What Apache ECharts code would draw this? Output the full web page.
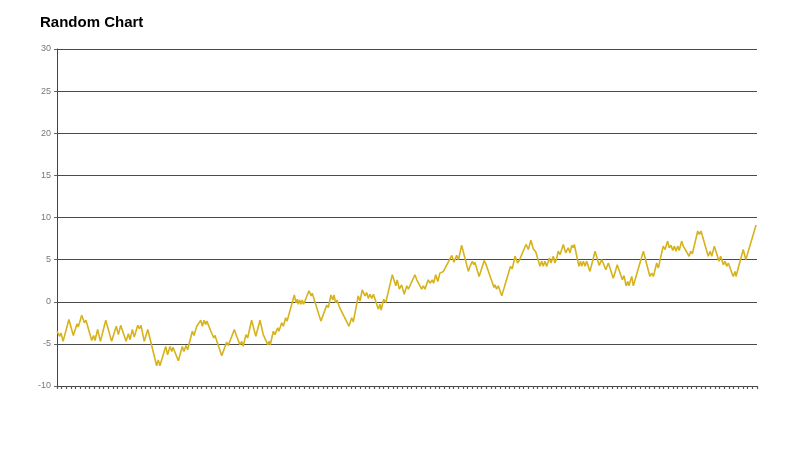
<!DOCTYPE html>
<html lang="en">
<head>
    <meta charset="UTF-8">
    <title>Random Chart</title>
    <style>
        html, body { margin: 0; padding: 0; background: #fff; }
        .chart { width: 800px; height: 450px; }
    </style>
</head>
<body>
<div class="chart" id="showData"></div>
<script src="https://cdn.jsdelivr.net/npm/echarts@6/dist/echarts.min.js"></script>
<script>
    // turning points of the walk: position along the x axis (0..300) and value
    var steps = [
        0, 1.2, 1.7, 2.6, 5.1, 7.0, 8.6, 9.1, 10.6, 11.7, 12.4, 14.9, 15.7, 16.3, 17.4, 18.6,
        20.9, 23.4, 25.4, 26.3, 27.3, 29.6, 30.6, 31.3, 32.3, 33.1, 34.6, 35.3, 36.0, 37.4, 38.9,
        42.7, 43.4, 44.1, 46.6, 47.4, 48.4, 49.2, 49.7, 52.0, 53.7, 54.4, 55.3, 56.0, 58.0, 58.7,
        59.9, 60.6, 61.6, 62.3, 63.0, 63.7, 64.2, 66.4, 67.2, 67.7, 70.6, 72.7, 73.4, 76.0, 77.0,
        78.4, 79.2, 79.8, 81.0, 81.7, 83.4, 85.2, 87.0, 88.4, 90.3, 90.9, 91.4, 92.7, 93.4, 94.6,
        95.1, 96.3, 97.0, 98.0, 98.6, 101.7, 102.4, 103.0, 103.4, 104.0, 104.6, 105.1, 105.7,
        108.0, 108.9, 109.4, 113.1, 115.6, 116.3, 117.4, 118.2, 118.7, 119.4, 120.0, 121.0,
        125.1, 126.3, 127.0, 129.1, 129.9, 130.8, 132.0, 132.7, 133.4, 134.1, 134.9, 135.6,
        137.7, 138.4, 138.9, 140.0, 140.9, 143.7, 145.2, 145.8, 146.7, 147.7, 148.8, 149.9,
        150.6, 153.4, 154.2, 154.8, 156.3, 157.0, 157.7, 159.1, 159.9, 160.8, 161.4, 162.3,
        163.2, 164.1, 164.9, 165.6, 166.3, 169.2, 170.1, 171.3, 172.1, 173.4, 176.3, 177.0,
        178.0, 178.7, 179.1, 180.9, 183.1, 183.9, 187.3, 187.7, 188.4, 189.1, 190.6, 193.7,
        194.4, 195.1, 196.3, 197.4, 198.1, 201.0, 202.0, 203.1, 204.1, 205.2, 207.0, 207.7,
        208.4, 209.1, 209.9, 211.0, 211.7, 212.7, 213.4, 214.2, 214.8, 215.6, 217.0, 218.0,
        219.1, 219.9, 220.6, 221.3, 221.7, 223.7, 224.4, 224.9, 225.6, 226.3, 227.0, 228.4,
        230.6, 232.4, 233.4, 234.1, 235.2, 236.3, 238.4, 239.1, 240.1, 242.3, 243.0, 243.9,
        244.6, 245.1, 246.3, 247.0, 251.3, 254.1, 254.9, 255.6, 257.0, 257.7, 259.8, 260.6,
        261.7, 262.4, 263.1, 263.9, 264.6, 265.3, 266.0, 266.7, 267.7, 268.4, 269.1, 270.9,
        271.6, 272.3, 274.6, 275.3, 276.0, 279.1, 279.9, 280.6, 281.7, 282.4, 283.7, 284.4,
        285.6, 286.3, 287.0, 287.7, 289.8, 290.6, 291.0, 294.1, 295.2, 299.6
    ];
    var values = [
        -3.5, -4.1, -3.7, -4.7, -2.1, -4.0, -2.6, -3.0, -1.6, -2.5, -2.2, -4.6, -4.0, -4.6, -3.3, -4.7,
        -2.2, -4.7, -2.9, -3.9, -2.8, -4.7, -3.8, -4.5, -3.3, -4.2, -2.8, -3.2, -2.8, -4.7, -3.3,
        -7.6, -6.9, -7.6, -5.3, -6.3, -5.3, -5.9, -5.4, -7.0, -5.3, -5.9, -5.2, -5.7, -3.5, -4.0,
        -2.9, -3.1, -2.2, -2.9, -2.2, -2.7, -2.3, -3.8, -4.3, -4.0, -6.4, -4.8, -5.2, -3.3, -4.1,
        -5.1, -4.7, -5.3, -3.9, -4.3, -2.2, -4.1, -2.2, -3.9, -5.1, -4.7, -5.1, -3.5, -3.9, -3.1,
        -3.5, -2.5, -2.9, -1.9, -2.3, 0.8, -0.1, 0.3, -0.3, 0.2, -0.3, 0.2, -0.3,
        1.3, 0.7, 1.0, -2.3, -0.4, -0.7, 0.8, 0.2, 0.8, -0.1, 0.2, -0.6,
        -2.9, -1.9, -2.4, 0.7, 0.1, 1.4, 0.7, 1.1, 0.4, 0.9, 0.4, 0.9,
        -0.9, -0.3, -1.0, 0.3, -0.1, 3.2, 1.9, 2.6, 1.5, 2.0, 0.9, 1.9,
        1.5, 3.2, 2.6, 2.8, 1.5, 1.9, 1.5, 2.6, 2.2, 2.6, 2.2, 3.2,
        2.4, 3.4, 3.2, 3.6, 3.4, 5.5, 4.7, 5.5, 5.0, 6.7, 3.6, 4.2,
        4.8, 4.4, 4.7, 3.0, 4.9, 4.4, 1.7, 2.0, 1.5, 1.9, 0.7, 3.6,
        4.2, 3.9, 5.4, 4.6, 4.9, 6.8, 6.2, 7.3, 6.3, 5.9, 4.2, 4.8,
        4.2, 4.8, 4.2, 5.2, 4.6, 5.4, 4.6, 5.2, 6.0, 5.6, 6.8, 5.8,
        6.4, 5.8, 6.7, 6.4, 6.8, 4.2, 4.8, 4.2, 4.8, 4.2, 4.8, 3.6,
        6.0, 4.3, 5.0, 4.6, 3.8, 4.6, 2.8, 3.4, 4.4, 2.6, 3.1, 1.9,
        2.4, 1.9, 3.0, 1.9, 6.0, 3.0, 3.4, 3.0, 4.6, 4.0, 6.6, 6.2,
        7.2, 6.4, 6.7, 6.1, 6.6, 6.0, 6.6, 6.1, 7.2, 6.6, 6.8, 5.4,
        6.0, 5.7, 8.4, 8.0, 8.4, 5.4, 6.0, 5.4, 6.6, 6.0, 4.8, 5.4,
        4.4, 4.8, 4.2, 4.6, 3.0, 3.6, 3.0, 6.2, 5.0, 9.1
    ];
    var yMin = -10, yMax = 30, yStep = 5;
    var xMin = 0, xMax = 300, xTickStep = 2;

    var data = [];
    for (var i = 0; i < steps.length; i++) {
        data.push([steps[i], values[i]]);
    }

    var mychart = echarts.init(document.getElementById("showData"));
    var option = {
        animation: false,
        title: {
            text: 'Random Chart',
            left: 40,
            top: 15,
            padding: 0,
            textStyle: {
                fontFamily: 'Liberation Sans',
                fontSize: 15,
                fontWeight: 'bold',
                color: '#000'
            }
        },
        grid: {
            left: 57,
            right: 43,
            top: 49,
            bottom: 64
        },
        xAxis: {
            type: 'value',
            min: xMin,
            max: xMax,
            interval: xTickStep,
            axisLine: { onZero: false, lineStyle: { color: '#444', width: 1 } },
            axisTick: { length: 3, lineStyle: { color: '#555', width: 1.2 } },
            axisLabel: { show: false },
            splitLine: { show: false }
        },
        yAxis: {
            type: 'value',
            min: yMin,
            max: yMax,
            interval: yStep,
            axisLine: { show: true, lineStyle: { color: '#444', width: 1 } },
            axisTick: { show: true, length: 3, lineStyle: { color: '#666' } },
            axisLabel: {
                margin: 6,
                fontFamily: 'Liberation Sans',
                fontSize: 9,
                color: '#777'
            },
            splitLine: { lineStyle: { color: '#4a4a4a', width: 1 } }
        },
        series: [{
            type: 'line',
            data: data,
            showSymbol: false,
            lineStyle: { color: '#d6b31c', width: 1.6 }
        }]
    };
    mychart.setOption(option);
</script>
</body>
</html>
